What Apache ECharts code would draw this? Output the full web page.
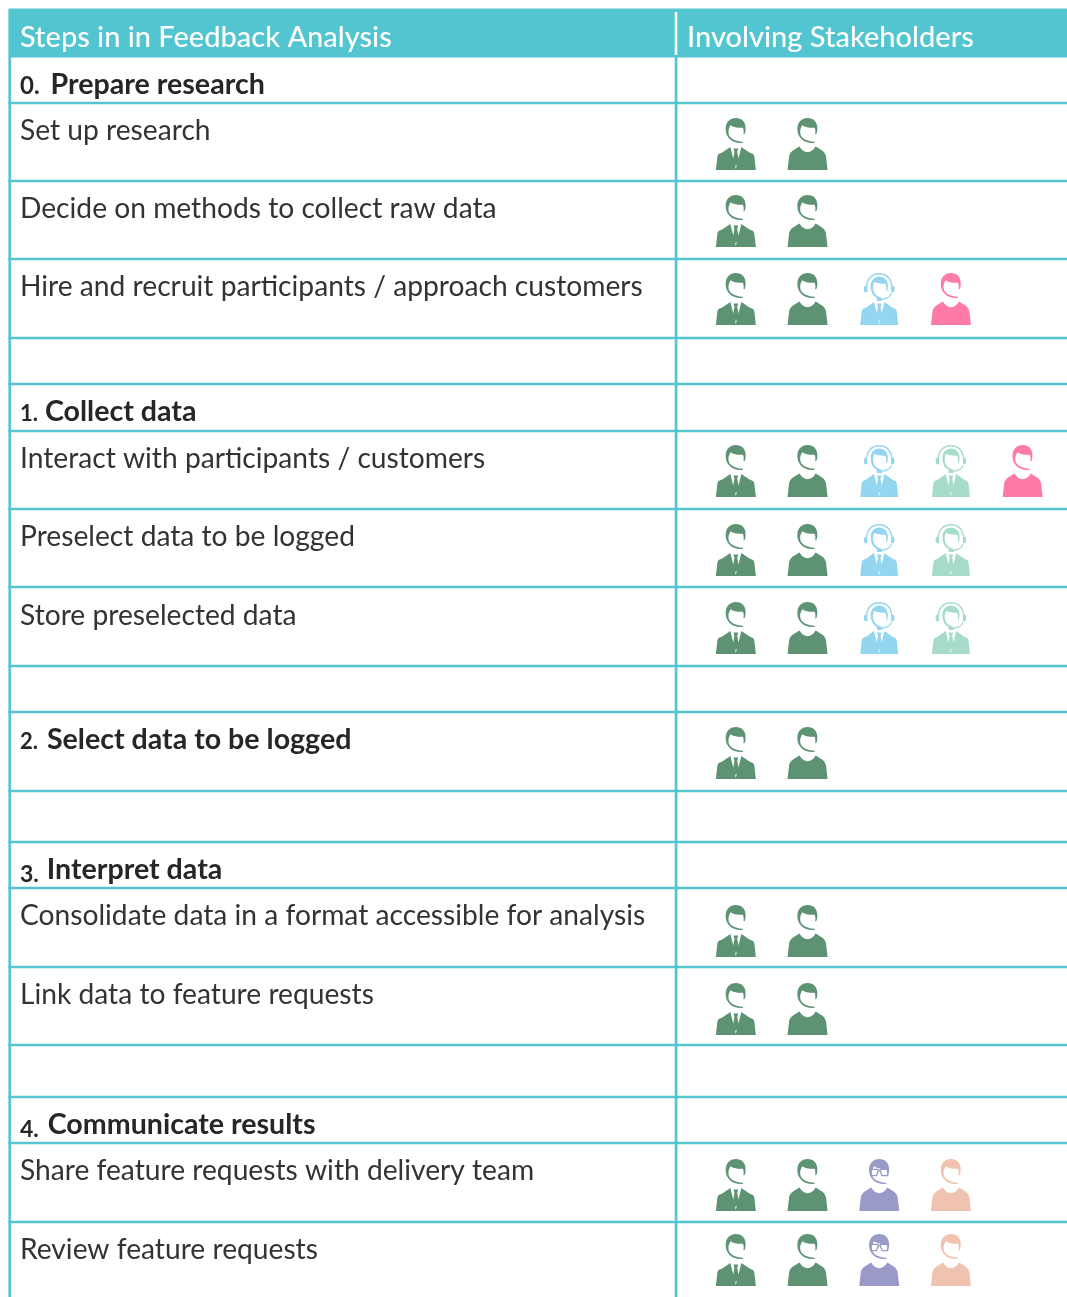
<!DOCTYPE html>
<html>
<head>
<meta charset="utf-8">
<style>html,body{margin:0;padding:0;background:#fff}#chart{width:1067px;height:1297px}</style>
<script src="https://cdn.jsdelivr.net/npm/echarts@6/dist/echarts.min.js"></script>
</head>
<body>
<div id="chart"></div>
<script>
// table content
var headers = ['Steps in in Feedback Analysis', 'Involving Stakeholders'];
var rowLabels = [
    '0. Prepare research', 'Set up research', 'Decide on methods to collect raw data',
    'Hire and recruit participants / approach customers', '',
    '1. Collect data', 'Interact with participants / customers', 'Preselect data to be logged',
    'Store preselected data', '',
    '2. Select data to be logged', '',
    '3. Interpret data', 'Consolidate data in a format accessible for analysis', 'Link data to feature requests', '',
    '4. Communicate results', 'Share feature requests with delivery team', 'Review feature requests'
];
var rowStakeholders = [
    '', 'manager,analyst', 'manager,analyst', 'manager,analyst,support,customer', '',
    '', 'manager,analyst,support,agent,customer', 'manager,analyst,support,agent', 'manager,analyst,support,agent', '',
    'manager,analyst', '',
    '', 'manager,analyst', 'manager,analyst', '',
    '', 'manager,analyst,developer,designer', 'manager,analyst,developer,designer'
];
var slots = ['s1', 's2', 's3', 's4', 's5'];

// layout: the y of every horizontal rule, and small per row nudges
var rowTops = [57, 103, 181, 259, 338, 384, 431, 509, 587, 666, 712, 791, 842, 888, 967, 1045, 1097, 1143, 1222, 1300];
var iconShift = [0, 0, -1, -1, 0, 0, -1, 0, 0, 0, 0, 0, 0, 2, 1, 0, 0, 1, -3];
var labelShift = [0, 0, 0, 0, 0, 0, 0, 0, 1, 0, 0, 0, 0, 0, 0, 0, 0, 0, 0];
var teal = '#53c5d0';

var head = 'M9.8 11C9.8 4 14 0 20 0C26 0 29.8 4 29.8 10C29.8 12.5 29.5 14 28.6 16L27.6 16C28 13.5 28 11.5 27 9.5C22.5 9.8 17.5 9 14.8 7C13 9.5 12.3 12 12.7 15C13.3 19.5 18 23 27 23.2L27 24.4C18 25.6 9.8 20 9.8 11Z';
var jacket = 'M0 51L1.5 38C2 35 4 34.5 6 34L14.5 28.5L20 50L25.5 28.5L34 34C36 34.5 38 35 38.5 38L40 51Z';
var tie = 'M17.6 30L22.4 30L21.4 33L23 42L20 47.5L17 42L18.6 33Z';
var shirt = 'M0 51L1.5 38C2 33 7 31 12 28C14 31.5 17 33.5 20 33.5C23 33.5 26 31.5 28 28C33 31 38 33 38.5 38L40 51Z';
var headSmall = 'M11 13C11 7 15 3.5 20 3.5C25 3.5 29 7 29 12C29 14 29 16 28 18L27.2 18C27.6 15 27.6 13 26.5 10.5C22 10.5 17 10 14.8 8.5C13.6 11 13.2 13 13.6 16C14.1 20 17 23 22 24L21 25.3C15 24.6 11 20 11 13Z';
var ring = 'M6 14C6 5 12 0 20 0C28 0 34 5 34 14L32.6 14C32.6 6 27 1.4 20 1.4C13 1.4 7.4 6 7.4 14Z';
var cups = 'M5 12.5L7.5 12.5L7.5 19L5 19C3.5 18 3.5 13.5 5 12.5ZM32.5 12.5L35 12.5C36.5 13.5 36.5 18 35 19L32.5 19Z';
var mic = 'M32 19.5L33.2 19.5C33 23 29 25.5 23 26.2L23 27.5L17.5 27.5L17.5 24.6L23 24.6L23 25C28 24.2 31.6 22.5 32 19.5Z';
var glasses = 'M10 9.5L19 9.5L20 11L21 9.5L30 9.5L30 10.8L29 17L22.3 17L20.5 12L19.5 12L17.7 17L11 17L10 10.8ZM11.4 10.8L12.1 15.8L16.8 15.8L18.4 10.8ZM21.6 10.8L23.2 15.8L27.9 15.8L28.6 10.8Z';
var headsetPath = headSmall + ring + cups + mic + tie + jacket;

var stakeholders = {
    manager: {color: '#5d9373', path: head + tie + jacket, width: 40},
    analyst: {color: '#5d9373', path: head + shirt, width: 40},
    support: {color: '#94d5f0', path: headsetPath, width: 38},
    agent: {color: '#a7dbcb', path: headsetPath, width: 38},
    customer: {color: '#fe7aa9', path: head + shirt, width: 40},
    developer: {color: '#9a9ac8', path: head + glasses + shirt, width: 40},
    designer: {color: '#f0c2b0', path: head + shirt, width: 40}
};

function iconPoints(name) {
    var out = [];
    rowStakeholders.forEach(function (entry, row) {
        entry.split(',').forEach(function (who, i) {
            if (who === name) {
                out.push([slots[i], rowTops[row] + 41 + iconShift[row]]);
            }
        });
    });
    return out;
}

function isStep(label) {
    return /^\d\. /.test(label);
}

function stepText(label) {
    // the source face has old style figures: small, 3 and 4 hang below the line
    return '{d' + label.charAt(0) + '|' + label.slice(0, 2) + '}{b|' + label.slice(2) + '}';
}

function digitStyle(size, top, right) {
    return {fontFamily: 'Lato', fontWeight: 700, fontSize: size, fill: '#262626', padding: [top, right, 0, 0]};
}

var stepRich = {
    d0: digitStyle(24, 2, 4),
    d1: digitStyle(22, 3, 0),
    d2: digitStyle(22, 3, 2),
    d3: digitStyle(23, 9, 1),
    d4: digitStyle(23, 9, 2),
    b: {fontFamily: 'Lato', fontWeight: 700, fontSize: 28.6, fill: '#262626'}
};

function renderTable(params, api) {
    if (params.dataIndex > 0) return;
    var els = [];
    var size = api.size([1, 1]);
    var rect = function (x, y, w, h, fill) {
        var p = api.coord([x, y]);
        els.push({type: 'rect', shape: {x: p[0], y: p[1], width: w * size[0], height: h * size[1]}, style: {fill: fill}});
    };
    var text = function (x, y, t, style) {
        var p = api.coord([x, y]);
        els.push({type: 'text', x: p[0], y: p[1], style: echarts.util.extend({
            text: t, fontFamily: 'Lato', verticalAlign: 'middle', align: 'left'
        }, style)});
    };
    rect(8.4, 8.6, 1059, 48.9, teal);
    rect(8.4, 57, 2.7, 1240, teal);
    rect(674.7, 57, 2.7, 1240, teal);
    rect(674.7, 12, 2.6, 43, '#ffffff');
    rowTops.forEach(function (y, i) {
        if (i > 0) rect(8.4, y - 1.3, 1059, 2.6, teal);
    });
    text(20, 38, headers[0], {fill: '#fff', fontSize: 29, fontWeight: 500});
    text(687, 38, headers[1], {fill: '#fff', fontSize: 29, fontWeight: 500});
    rowLabels.forEach(function (label, i) {
        if (!label) return;
        var y = rowTops[i] + 28 + labelShift[i];
        if (isStep(label)) {
            text(20, y, stepText(label), {rich: stepRich});
        } else {
            text(20, y, label, {fill: '#333', fontSize: 28.2, fontWeight: 400});
        }
    });
    return {type: 'group', children: els};
}

var series = [{
    type: 'custom', xAxisIndex: 0, yAxisIndex: 0, silent: true, clip: false,
    renderItem: renderTable, data: [[0, 0]], encode: {x: 0, y: 1}
}];
Object.keys(stakeholders).forEach(function (name) {
    series.push({
        name: name, type: 'scatter', xAxisIndex: 1, yAxisIndex: 1, silent: true,
        symbol: 'path://' + stakeholders[name].path, symbolSize: [stakeholders[name].width, 52],
        itemStyle: {color: stakeholders[name].color, opacity: 1},
        data: iconPoints(name)
    });
});

var chart = echarts.init(document.getElementById('chart'));
chart.setOption({
    animation: false,
    backgroundColor: '#fff',
    grid: [
        {left: 0, right: 0, top: 0, bottom: 0},
        {left: 700, width: 358.5, top: 0, bottom: 0}
    ],
    xAxis: [
        {type: 'value', gridIndex: 0, min: 0, max: 1067, show: false},
        {type: 'category', gridIndex: 1, data: slots, show: false}
    ],
    yAxis: [
        {type: 'value', gridIndex: 0, min: 0, max: 1297, inverse: true, show: false},
        {type: 'value', gridIndex: 1, min: 0, max: 1297, inverse: true, show: false}
    ],
    series: series
});
</script>
</body>
</html>
